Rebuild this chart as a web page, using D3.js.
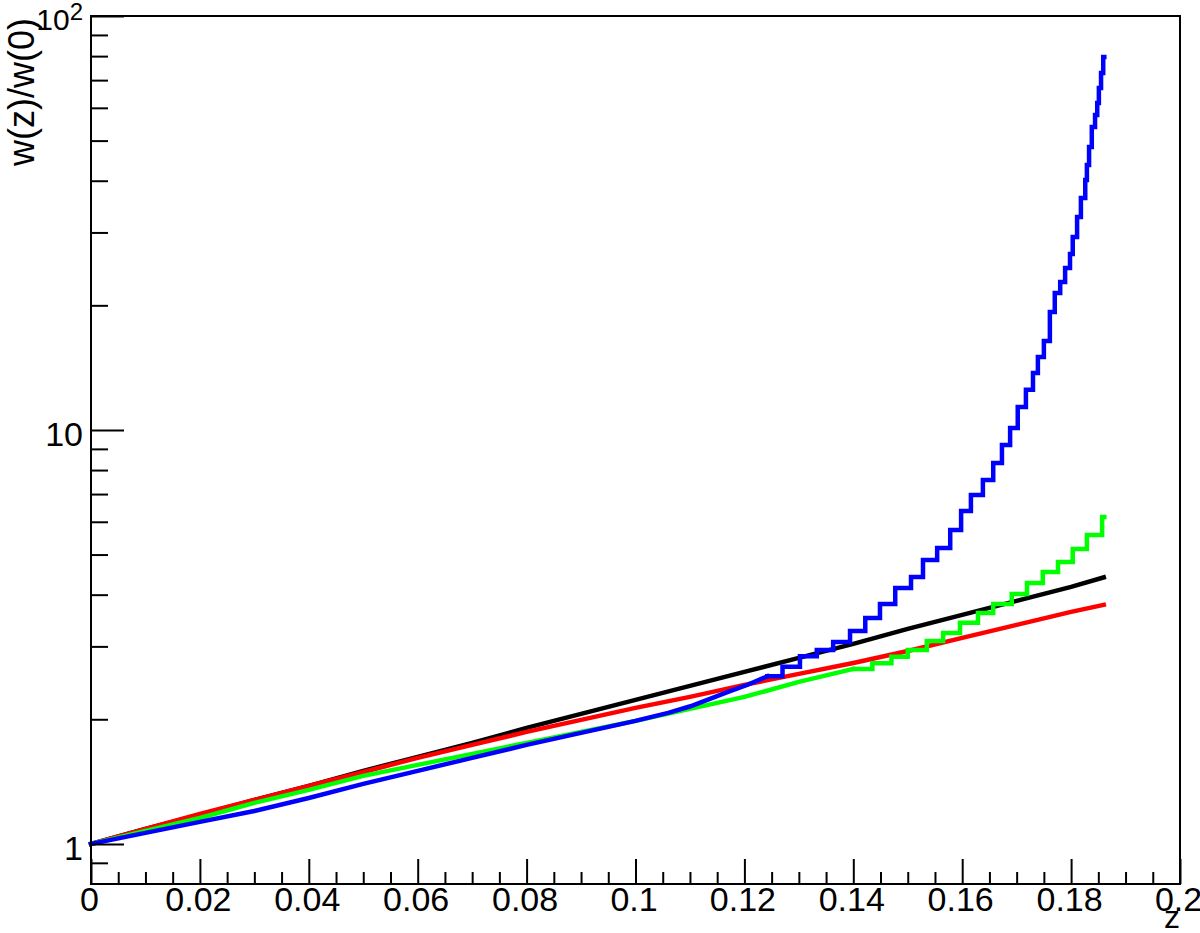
<!DOCTYPE html>
<html>
<head>
<meta charset="utf-8">
<script src="https://cdn.jsdelivr.net/npm/d3@7"></script>
<style>
  html, body { margin: 0; padding: 0; background: #ffffff; }
  svg { display: block; }
</style>
</head>
<body>
<svg id="chart" width="1200" height="933"></svg>
<script>
// ---------------- data ----------------
const xMajorTicks = [0, 0.02, 0.04, 0.06, 0.08, 0.10, 0.12, 0.14, 0.16, 0.18, 0.20];
const xTickLabels = ["0", "0.02", "0.04", "0.06", "0.08", "0.1", "0.12", "0.14", "0.16", "0.18", "0.2"];
const xMinorTicks = [0.005, 0.01, 0.015, 0.025, 0.03, 0.035, 0.045, 0.05, 0.055, 0.065, 0.07, 0.075,
                     0.085, 0.09, 0.095, 0.105, 0.11, 0.115, 0.125, 0.13, 0.135, 0.145, 0.15, 0.155,
                     0.165, 0.17, 0.175, 0.185, 0.19, 0.195];
const yMajorTicks = [1, 10, 100];
const yTickLabels = ["1", "10", "10"];
const yTickExponents = ["", "", "2"];
const yMinorTicks = [0.9, 2, 3, 4, 5, 6, 7, 8, 9, 20, 30, 40, 50, 60, 70, 80, 90];
const xTitle = "z";
const yTitle = "w(z)/w(0)";

// black & red: sampled curve
const zGrid  = [0, 0.01, 0.02, 0.03, 0.04, 0.05, 0.06, 0.07, 0.08, 0.09, 0.10, 0.11, 0.12, 0.13, 0.14, 0.15, 0.16, 0.17, 0.18, 0.186];
const blackW = [1.000, 1.087, 1.175, 1.277, 1.381, 1.501, 1.623, 1.754, 1.906, 2.061, 2.228, 2.408, 2.603, 2.814, 3.042, 3.306, 3.574, 3.864, 4.176, 4.403];
const redW   = [1.000, 1.087, 1.181, 1.277, 1.381, 1.492, 1.614, 1.734, 1.864, 1.993, 2.131, 2.265, 2.422, 2.574, 2.736, 2.925, 3.145, 3.381, 3.634, 3.779];

// green: smooth part then staircase
const greenZ     = [0, 0.01, 0.02, 0.03, 0.04, 0.05, 0.06, 0.07, 0.08, 0.09, 0.10, 0.11, 0.12, 0.13, 0.14];
const greenW     = [1.000, 1.075, 1.155, 1.256, 1.350, 1.460, 1.552, 1.650, 1.754, 1.864, 1.982, 2.119, 2.265, 2.462, 2.647];
const greenStepZ = [0.1400, 0.1435, 0.1470, 0.1500, 0.1535, 0.1565, 0.1596, 0.1629, 0.1657, 0.1691, 0.1719, 0.1748, 0.1776, 0.1803, 0.1829, 0.1857, 0.1861];
const greenStepW = [2.647, 2.730, 2.830, 2.942, 3.092, 3.233, 3.420, 3.614, 3.800, 4.017, 4.270, 4.540, 4.800, 5.159, 5.578, 6.165, 6.165];

// blue: smooth part then staircase
const blueZ     = [0, 0.01, 0.02, 0.03, 0.04, 0.05, 0.06, 0.07, 0.08, 0.09, 0.10, 0.106, 0.1101, 0.117, 0.1205, 0.1242];
const blueW     = [1.000, 1.063, 1.130, 1.201, 1.291, 1.396, 1.501, 1.614, 1.734, 1.854, 1.982, 2.073, 2.150, 2.330, 2.420, 2.540];
const blueStepZ = [0.1242, 0.1270, 0.1302, 0.1333, 0.1363, 0.1394, 0.1422, 0.1449, 0.1477, 0.1506, 0.1528, 0.1554, 0.1578, 0.1598, 0.1616, 0.1638, 0.1657, 0.1673,
                   0.1688, 0.1702, 0.1717, 0.1730, 0.1739, 0.1750, 0.1761, 0.1770, 0.1780, 0.1789, 0.1798, 0.1803,
                   0.1811, 0.1818, 0.1826, 0.1829, 0.1833, 0.1838, 0.1844, 0.1848, 0.1851, 0.1855, 0.1859, 0.1861];
const blueStepW = [2.540, 2.680, 2.840, 2.942, 3.075, 3.269, 3.515, 3.800, 4.153, 4.415, 4.853, 5.188, 5.734, 6.373, 6.966, 7.572, 8.324, 9.200,
                   10.11, 11.36, 12.50, 13.73, 15.01, 16.41, 19.28, 21.42, 22.78, 24.62, 26.62, 29.26,
                   32.70, 36.34, 40.18, 43.66, 48.27, 53.93, 57.67, 61.64, 67.01, 72.84, 79.62, 79.62];

// ---------------- layout ----------------
const FONT = "'Liberation Sans', Arial, Helvetica, sans-serif";
const frame = { left: 91, top: 16, right: 1180, bottom: 884 };

const svg = d3.select("#chart");
svg.append("rect").attr("x", 0).attr("y", 0).attr("width", 1200).attr("height", 933).attr("fill", "#ffffff");

const x = d3.scaleLinear().domain([0, 0.2]).range([frame.left, frame.right]);
const y = d3.scaleLog().domain([0.8, 100]).range([frame.bottom, frame.top]);

const zip = (a, b) => a.map((v, i) => [v, b[i]]);
const lineSmooth = d3.line().x(d => x(d[0])).y(d => y(d[1])).curve(d3.curveLinear);
const lineStep = d3.line().x(d => x(d[0])).y(d => y(d[1])).curve(d3.curveStepAfter);

const series = [
  { color: "#000000", parts: [[zip(zGrid, blackW), lineSmooth]] },
  { color: "#ff0000", parts: [[zip(zGrid, redW), lineSmooth]] },
  { color: "#00ff00", parts: [[zip(greenZ, greenW), lineSmooth], [zip(greenStepZ, greenStepW), lineStep]] },
  { color: "#0000ff", parts: [[zip(blueZ, blueW), lineSmooth], [zip(blueStepZ, blueStepW), lineStep]] }
];

const gCurves = svg.append("g");
series.forEach(s => {
  s.parts.forEach(([data, gen]) => {
    gCurves.append("path")
      .datum(data)
      .attr("d", gen)
      .attr("fill", "none")
      .attr("stroke", s.color)
      .attr("stroke-width", 4.5)
      .attr("stroke-linejoin", "miter")
      .attr("stroke-linecap", "square");
  });
});

// ---------------- axes ----------------
function styleAxis(g) {
  g.attr("font-family", FONT).attr("font-size", 34);
  g.select(".domain").remove();
  g.selectAll(".tick line").attr("stroke", "#000").attr("stroke-width", 2);
  g.selectAll(".tick text").attr("fill", "#000");
}

// x minor
const gxMinor = svg.append("g").attr("transform", `translate(0,${frame.bottom})`)
  .call(d3.axisBottom(x).tickValues(xMinorTicks).tickFormat("").tickSizeInner(-12).tickSizeOuter(0));
styleAxis(gxMinor);

// x major
const gx = svg.append("g").attr("transform", `translate(0,${frame.bottom})`)
  .call(d3.axisBottom(x).tickValues(xMajorTicks)
    .tickFormat((d, i) => xTickLabels[i]).tickSizeInner(-25).tickSizeOuter(0).tickPadding(3));
styleAxis(gx);
gx.selectAll(".tick text").attr("dx", -2);

// y minor
const gyMinor = svg.append("g").attr("transform", `translate(${frame.left},0)`)
  .call(d3.axisLeft(y).tickValues(yMinorTicks).tickFormat("").tickSizeInner(-17).tickSizeOuter(0));
styleAxis(gyMinor);

// y major
const gy = svg.append("g").attr("transform", `translate(${frame.left},0)`)
  .call(d3.axisLeft(y).tickValues(yMajorTicks)
    .tickFormat((d, i) => yTickLabels[i]).tickSizeInner(-33).tickSizeOuter(0).tickPadding(8));
styleAxis(gy);
gy.selectAll(".tick text").attr("dy", "0.46em");
gy.selectAll(".tick text").each(function (d) {
  const i = yMajorTicks.indexOf(d);
  const exp = yTickExponents[i];
  if (exp) {
    const t = d3.select(this);
    t.attr("font-size", 30);
    t.append("tspan").attr("font-size", 24).attr("dy", "-0.42em").text(exp);
  }
});

// frame
svg.append("rect")
  .attr("x", frame.left).attr("y", frame.top)
  .attr("width", frame.right - frame.left).attr("height", frame.bottom - frame.top)
  .attr("fill", "none").attr("stroke", "#000").attr("stroke-width", 2);

// titles
svg.append("text")
  .attr("x", frame.right).attr("y", 928)
  .attr("text-anchor", "end")
  .attr("font-family", FONT).attr("font-size", 32).attr("fill", "#000")
  .text(xTitle);

svg.append("text")
  .attr("transform", `translate(34,${frame.top + 2}) rotate(-90)`)
  .attr("text-anchor", "end")
  .attr("font-family", FONT).attr("font-size", 36).attr("fill", "#000")
  .text(yTitle);
</script>
</body>
</html>
